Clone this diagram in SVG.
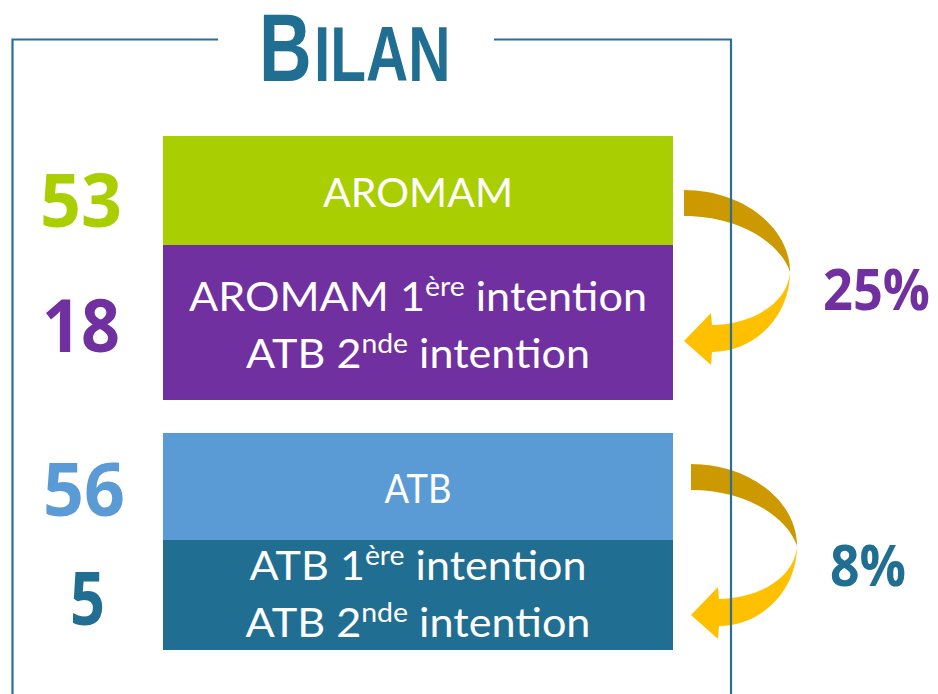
<svg xmlns="http://www.w3.org/2000/svg" width="938" height="694" viewBox="0 0 938 694">
<style>
.box-text{font-family:Lato,"Open Sans","Liberation Sans",sans-serif;font-size:41px;fill:#ffffff;text-anchor:middle}
.num{font-family:"Open Sans",Lato,"Liberation Sans",sans-serif;font-weight:bold;font-size:74px;text-anchor:middle}
.pct{font-family:"Open Sans",Lato,"Liberation Sans",sans-serif;font-weight:bold;font-size:58px;text-anchor:middle}
.frame{fill:none;stroke:#2A6F96;stroke-width:2.2}
.dark{fill:#CC9A00}
.bright{fill:#FFC000}
</style>
<defs>
<g id="curl">
<path class="dark" d="M684,190 C742.3,190 790,227 790,272 C780,242 738,216 684,216 Z"/>
<path class="bright" d="M790,272 C790,316 755,352 712,352 L711,365 L684,341 L711,313 L712,325 C755,324 788,302 790,272 Z"/>
</g>
</defs>
<rect width="938" height="694" fill="#ffffff"/>

<g id="title">
<text transform="translate(259,81) scale(0.76,1)" font-family="'Liberation Sans',Arial,sans-serif" font-weight="bold" fill="#216E93"><tspan font-size="96">B</tspan><tspan font-size="77" dx="3">ILAN</tspan></text>
</g>

<g id="connectors">
<use href="#curl"/>
<use href="#curl" transform="translate(7,274)"/>
</g>

<g id="frame">
<path class="frame" d="M218,39.5 H12.5 V694"/>
<path class="frame" d="M494,39.5 H731 V694"/>
</g>

<g id="node-aromam">
<rect x="163" y="136" width="510" height="109" fill="#A9CF03"/>
<text class="box-text" x="418" y="207" textLength="190" lengthAdjust="spacingAndGlyphs">AROMAM</text>
</g>

<g id="node-aromam-1ere">
<rect x="163" y="245" width="510" height="155" fill="#7030A0"/>
<text class="box-text" x="418" y="311" textLength="458" lengthAdjust="spacingAndGlyphs">AROMAM 1<tspan font-size="27" dy="-15">ère</tspan><tspan dy="15"> intention</tspan></text>
<text class="box-text" x="418" y="368" textLength="344" lengthAdjust="spacingAndGlyphs">ATB 2<tspan font-size="27" dy="-15">nde</tspan><tspan dy="15"> intention</tspan></text>
</g>

<g id="node-atb">
<rect x="163" y="433" width="510" height="107" fill="#5B9BD5"/>
<text class="box-text" x="418" y="503" textLength="67" lengthAdjust="spacingAndGlyphs">ATB</text>
</g>

<g id="node-atb-1ere">
<rect x="163" y="540" width="510" height="110" fill="#216E93"/>
<text class="box-text" x="418" y="580" textLength="337" lengthAdjust="spacingAndGlyphs">ATB 1<tspan font-size="27" dy="-15">ère</tspan><tspan dy="15"> intention</tspan></text>
<text class="box-text" x="418" y="637" textLength="345" lengthAdjust="spacingAndGlyphs">ATB 2<tspan font-size="27" dy="-15">nde</tspan><tspan dy="15"> intention</tspan></text>
</g>

<g id="numbers">
<text class="num" x="81" y="227" fill="#A9CF03" textLength="82" lengthAdjust="spacingAndGlyphs">53</text>
<text class="num" x="81" y="352" fill="#7030A0" textLength="78" lengthAdjust="spacingAndGlyphs">18</text>
<text class="num" x="84" y="516" fill="#5B9BD5" textLength="82" lengthAdjust="spacingAndGlyphs">56</text>
<text class="num" x="87.5" y="625" fill="#216E93" textLength="35" lengthAdjust="spacingAndGlyphs">5</text>
</g>

<g id="percentages">
<text class="pct" x="876.5" y="310" fill="#7030A0" textLength="107" lengthAdjust="spacingAndGlyphs">25%</text>
<text class="pct" x="868" y="586" fill="#216E93" textLength="76" lengthAdjust="spacingAndGlyphs">8%</text>
</g>
</svg>
